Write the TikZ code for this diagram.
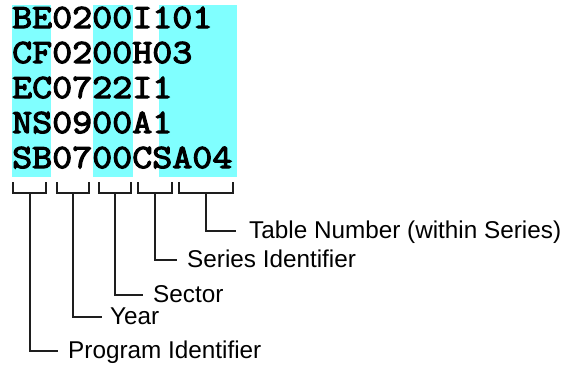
\documentclass[tikz,border=0pt]{standalone}
\usepackage{fontspec}
\setmainfont{Liberation Sans}
\newfontfamily\codefont[FakeBold=3.5,FakeStretch=1.143]{Latin Modern Mono}
\usetikzlibrary{calc}
\definecolor{bandcyan}{RGB}{128,255,255}
\definecolor{linegray}{RGB}{30,30,30}
\tikzset{
  band/.style={fill=bandcyan, draw=none},
  coderow/.style={anchor=base west, inner sep=0pt, font=\codefont\fontsize{34}{34}\selectfont},
  lbl/.style={anchor=base west, inner sep=0pt, font=\fontsize{24.3}{25}\selectfont},
  conn/.style={draw=linegray, line width=1.1pt},
}
\begin{document}
\begin{tikzpicture}[x=1pt,y=-1pt]
\useasboundingbox (0,0) rectangle (569,364);
% cyan bands
\fill[band] (12,5) rectangle (51,177);
\fill[band] (93,5) rectangle (133,177);
\fill[band] (159,5) rectangle (237,177);
% code rows
\node[coderow] (r1) at (12,28) {BE0200I101};
\node[coderow] (r2) at (12,63) {CF0200H03};
\node[coderow] (r3) at (12,98) {EC0722I1};
\node[coderow] (r4) at (12,133) {NS0900A1};
\node[coderow] (r5) at (12,168) {SB0700CSA04};
% brackets
\draw[conn] (13,182) -- (13,193) -- (46,193) -- (46,182);
\draw[conn] (57,182) -- (57,193) -- (89,193) -- (89,182);
\draw[conn] (99,182) -- (99,193) -- (131,193) -- (131,182);
\draw[conn] (138,182) -- (138,193) -- (172,193) -- (172,182);
\draw[conn] (179,182) -- (179,193) -- (233,193) -- (233,182);
% stem starts
\coordinate (s1) at (30,193);
\coordinate (s2) at (73,193);
\coordinate (s3) at (115,193);
\coordinate (s4) at (155,193);
\coordinate (s5) at (206,193);
% line ends
\coordinate (e1) at (58,351);
\coordinate (e2) at (102,317);
\coordinate (e3) at (143,295);
\coordinate (e4) at (177,260);
\coordinate (e5) at (236,231);
% labels
\node[lbl] (l1) at ($(e1)+(10,7.5)$) {Program Identifier};
\node[lbl] (l2) at ($(e2)+(8,7.5)$) {Year};
\node[lbl] (l3) at ($(e3)+(10,7.5)$) {Sector};
\node[lbl] (l4) at ($(e4)+(10,7.5)$) {Series Identifier};
\node[lbl] (l5) at ($(e5)+(13,7.5)$) {Table Number (within Series)};
% connectors
\draw[conn] (s1) |- (e1);
\draw[conn] (s2) |- (e2);
\draw[conn] (s3) |- (e3);
\draw[conn] (s4) |- (e4);
\draw[conn] (s5) |- (e5);
\end{tikzpicture}
\end{document}
